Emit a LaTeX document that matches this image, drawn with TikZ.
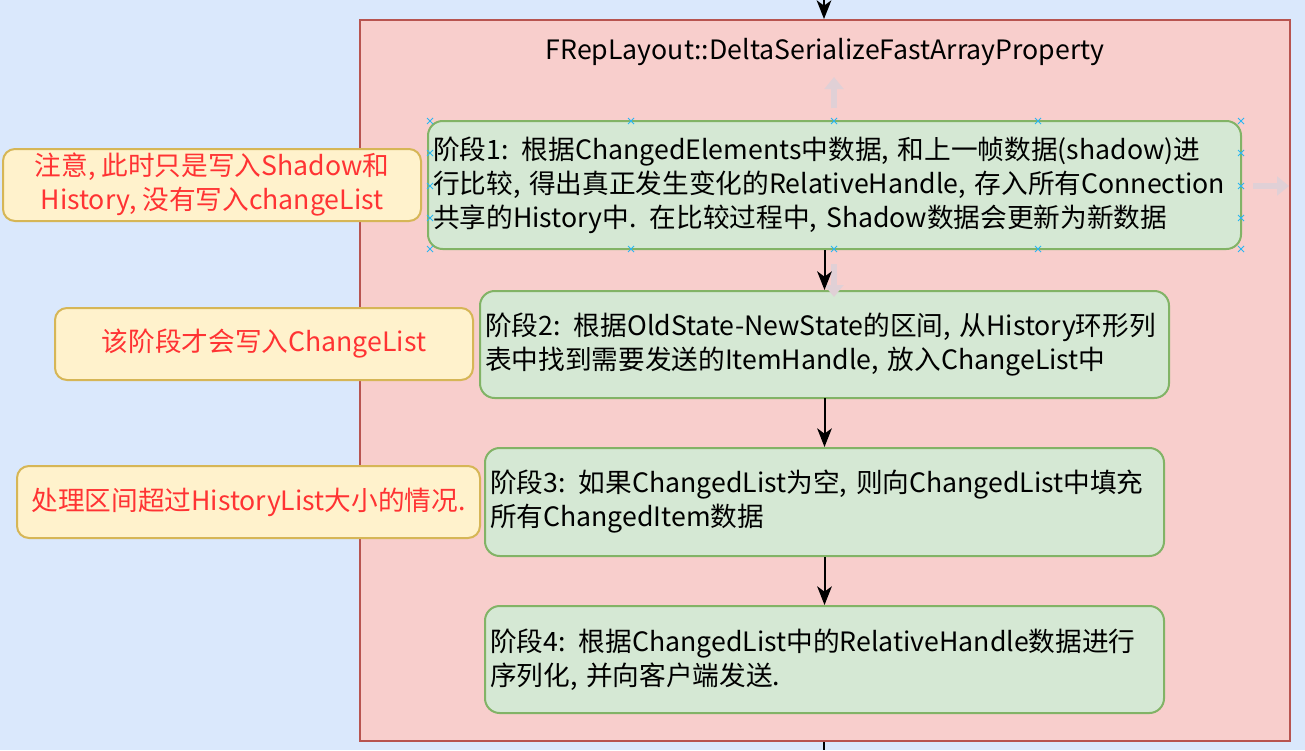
\documentclass[tikz,border=0pt]{standalone}
\usepackage{fontspec}
\setmainfont{Noto Sans CJK SC}
\usepackage{xcolor}
\usetikzlibrary{arrows.meta}

\definecolor{pagebg}{RGB}{218,232,252}
\definecolor{framefill}{RGB}{248,206,204}
\definecolor{frameline}{RGB}{184,84,80}
\definecolor{stagefill}{RGB}{213,232,212}
\definecolor{stageline}{RGB}{130,179,102}
\definecolor{notefill}{RGB}{255,242,204}
\definecolor{noteline}{RGB}{214,182,86}
\definecolor{notered}{RGB}{255,51,51}
\definecolor{hovergray}{RGB}{224,208,214}
\definecolor{selblue}{RGB}{41,182,242}

\tikzset{
  stage/.style={draw=stageline, fill=stagefill, line width=1.5pt, rounded corners=11pt,
    align=left, inner xsep=3.75pt, inner ysep=0pt, font=\fontsize{20}{25.5}\selectfont},
  note/.style={draw=noteline, fill=notefill, line width=1.5pt, rounded corners=9pt,
    align=center, inner sep=0pt, minimum height=54pt, text=notered,
    font=\fontsize{20}{25.5}\selectfont},
  flow/.style={line width=1.5pt, -{Stealth[length=14pt,width=11pt,inset=4pt]}},
  hover/.style={draw=hovergray, line width=4.5pt, -{Triangle[length=9pt,width=14pt]}},
  selmark/.style={draw=selblue, line width=0.75pt}
}

\begin{document}
\begin{tikzpicture}[x=0.75pt,y=0.75pt,yscale=-1,xscale=1]
\useasboundingbox (0,0) rectangle (1305,750);
\fill[pagebg] (0,0) rectangle (1305,750);

%Shape: Rectangle [frame]
\node[draw=frameline, fill=framefill, line width=1.5pt, minimum width=697.5pt, minimum height=540.75pt, inner sep=0pt] (frame) at (825,380.5) {};
% Text Node
\node[font=\fontsize{20}{25.5}\selectfont, inner sep=0.75pt] (title) at (825,52) {FRepLayout::DeltaSerializeFastArrayProperty};

%Shape: Rounded Rect [stages]
\node[stage, text width=602.25pt, minimum height=96pt] (stage1) at (834.5,185) {阶段1: 根据ChangedElements中数据, 和上一帧数据(shadow)进\\行比较, 得出真正发生变化的RelativeHandle, 存入所有Connection\\共享的History中. 在比较过程中, Shadow数据会更新为新数据};
\node[stage, text width=509.25pt, minimum height=80.25pt] (stage2) at (824.5,344.5) {阶段2: 根据OldState-NewState的区间, 从History环形列\\表中找到需要发送的ItemHandle, 放入ChangeList中};
\node[stage, text width=501.75pt, minimum height=81pt] (stage3) at (824.5,502) {阶段3: 如果ChangedList为空, 则向ChangedList中填充\\所有ChangedItem数据};
\node[stage, text width=501.75pt, minimum height=80.25pt] (stage4) at (824.5,659.5) {阶段4: 根据ChangedList中的RelativeHandle数据进行\\序列化, 并向客户端发送.};

%Shape: Rounded Rect [notes]
\node[note, minimum width=313.5pt] (note1) at (212,185) {注意, 此时只是写入Shadow和\\History, 没有写入changeList};
\node[note, minimum width=313.5pt] (note2) at (264,344) {该阶段才会写入ChangeList};
\node[note, minimum width=347.25pt] (note3) at (248.5,502) {处理区间超过HistoryList大小的情况.};

%Hover arrows and selection marks
\draw[hover] (834,108) -- (834,77);
\draw[hover] (1253,186) -- (1289,186);
\draw[hover] (834,264) -- (834,297);
\foreach \x in {430,631,834,1038,1241}
  \foreach \y in {121,249}
    \draw[selmark] (\x-3,\y-3) -- (\x+3,\y+3) (\x-3,\y+3) -- (\x+3,\y-3);
\foreach \x in {430,1241}
  \foreach \y in {153,186,218}
    \draw[selmark] (\x-3,\y-3) -- (\x+3,\y+3) (\x-3,\y+3) -- (\x+3,\y-3);

%Straight Lines
\coordinate (in) at (824,0);
\coordinate (out) at (824,750);
\draw[flow] (in) -- (in |- frame.north);
\draw[flow] (stage1.south -| stage2.north) -- (stage2.north);
\draw[flow] (stage2) ++(0,53.5) -- (stage3.north);
\draw[flow] (stage3.south) -- (stage4.north);
\draw[line width=1.5pt] (frame.south -| out) -- (out);

\end{tikzpicture}
\end{document}
